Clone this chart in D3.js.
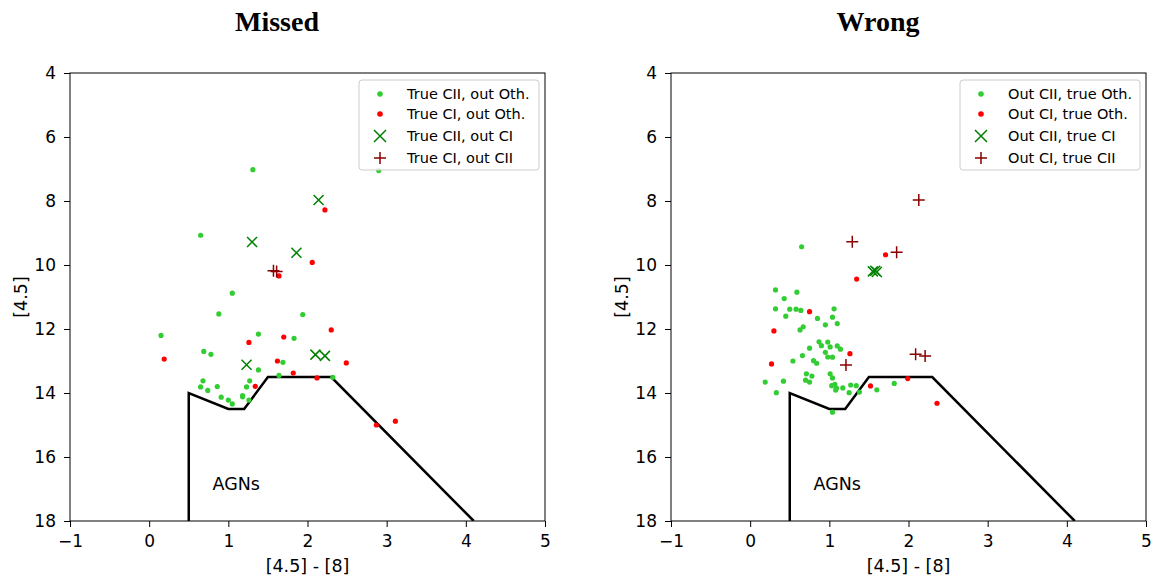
<!DOCTYPE html>
<html><head><meta charset="utf-8">
<script src="https://cdn.jsdelivr.net/npm/d3@7"></script>
<style>body{margin:0;background:#fff}svg{display:block}</style>
</head><body>
<script>
// ---- data ----
const xTicks = [-1,0,1,2,3,4,5];
const yTicks = [4,6,8,10,12,14,16,18];
const agnX = [0.5,0.5,1.0,1.2,1.5,2.3,4.1];
const agnY = [18,14,14.5,14.5,13.5,13.5,18];

const missedGreen = [[1.31,7.02],[0.65,9.07],[1.05,10.88],[0.88,11.53],[1.94,11.55],[0.15,12.2],[1.38,12.16],[1.83,12.29],[0.69,12.70],[0.78,12.79],[1.69,13.04],[1.38,13.28],[1.64,13.45],[2.32,13.51],[0.68,13.62],[0.65,13.81],[0.74,13.92],[0.86,13.80],[1.27,13.62],[1.23,13.81],[0.91,14.13],[1.0,14.22],[1.05,14.34],[1.18,14.12],[1.18,14.08],[1.26,14.22],[2.9,7.05]];
const missedRed = [[2.22,8.28],[2.06,9.92],[1.64,10.34],[1.26,12.42],[1.70,12.25],[2.30,12.03],[0.19,12.94],[1.62,13.0],[2.49,13.06],[1.82,13.375],[2.12,13.53],[1.34,13.79],[2.87,15.0],[3.11,14.88]];
const missedX = [[2.14,7.97],[1.30,9.28],[1.86,9.62],[1.23,13.12],[2.10,12.80],[2.22,12.84]];
const missedPlus = [[1.57,10.18],[1.61,10.2]];

const wrongGreen = [[0.65,9.43],[0.32,10.78],[0.59,10.85],[0.43,11.05],[0.32,11.37],[0.50,11.38],[0.58,11.38],[0.64,11.42],[1.06,11.37],[0.45,11.60],[0.85,11.67],[1.04,11.63],[0.95,11.87],[1.10,11.83],[0.63,12.03],[0.67,11.93],[0.87,12.40],[0.90,12.52],[0.98,12.41],[1.01,12.56],[1.10,12.53],[1.14,12.63],[0.75,12.60],[0.95,12.73],[0.98,12.875],[1.04,12.88],[0.66,12.83],[0.80,12.99],[0.84,13.07],[0.54,13.0],[0.71,13.40],[0.78,13.47],[1.01,13.40],[1.04,13.53],[0.70,13.60],[0.75,13.66],[0.19,13.66],[0.42,13.63],[0.33,13.99],[1.03,13.77],[1.07,13.73],[1.09,13.85],[1.08,13.91],[1.17,13.84],[1.27,13.75],[1.34,13.77],[1.38,13.97],[1.25,13.99],[1.60,13.90],[1.82,13.70],[1.04,14.60]];
const wrongRed = [[1.71,9.68],[1.345,10.44],[0.75,11.46],[0.30,12.06],[1.26,12.77],[0.27,13.09],[1.52,13.78],[1.99,13.55],[2.36,14.32]];
const wrongX = [[1.55,10.2],[1.6,10.22],[1.58,10.18]];
const wrongPlus = [[2.13,7.97],[1.29,9.27],[1.85,9.60],[1.21,13.125],[2.09,12.79],[2.21,12.84]];

const missedLabels = ["True CII, out Oth.","True CI, out Oth.","True CII, out CI","True CI, out CII"];
const wrongLabels = ["Out CII, true Oth.","Out CI, true Oth.","Out CII, true CI","Out CI, true CII"];

// ---- drawing ----
const W = 1153, H = 579;
const svg = d3.select("body").append("svg").attr("width",W).attr("height",H);
const font = "DejaVu Sans, sans-serif";
const COL = {g:"#32cd32", r:"#ff0000", x:"#008000", p:"#8b0000"};

function panel(left, title, green, red, xs, plus, labels){
  const x = d3.scaleLinear().domain([-1,5]).range([left, left+475]);
  const y = d3.scaleLinear().domain([4,18]).range([73,521]);
  const g = svg.append("g");

  svg.append("text").attr("x", left+207).attr("y", 31).attr("text-anchor","middle")
    .attr("font-family","Liberation Serif, Times New Roman, serif").attr("font-weight","bold")
    .attr("font-size",28).text(title);

  const cid = "clip"+left;
  svg.append("clipPath").attr("id",cid).append("rect")
    .attr("x",x(-1)).attr("y",y(4)).attr("width",x(5)-x(-1)).attr("height",y(18)-y(4));
  const plot = g.append("g").attr("clip-path",`url(#${cid})`);

  const pts = agnX.map((v,i)=>[v,agnY[i]]);
  plot.append("path").attr("d", d3.line().x(d=>x(d[0])).y(d=>y(d[1]))(pts))
    .attr("fill","none").attr("stroke","#000").attr("stroke-width",2.5);

  plot.append("text").attr("x",x(0.8)).attr("y",y(17)+1).attr("font-family",font)
    .attr("font-size",17.5).text("AGNs");

  plot.selectAll(null).data(green).join("circle").attr("cx",d=>x(d[0])).attr("cy",d=>y(d[1])).attr("r",2.6).attr("fill",COL.g);
  plot.selectAll(null).data(red).join("circle").attr("cx",d=>x(d[0])).attr("cy",d=>y(d[1])).attr("r",2.6).attr("fill",COL.r);
  const s=5;
  plot.selectAll(null).data(xs).join("path")
    .attr("d",d=>{const cx=x(d[0]),cy=y(d[1]);return `M${cx-s},${cy-s}L${cx+s},${cy+s}M${cx-s},${cy+s}L${cx+s},${cy-s}`;})
    .attr("stroke",COL.x).attr("stroke-width",1.5).attr("fill","none");
  const p=6;
  plot.selectAll(null).data(plus).join("path")
    .attr("d",d=>{const cx=x(d[0]),cy=y(d[1]);return `M${cx-p},${cy}L${cx+p},${cy}M${cx},${cy-p}L${cx},${cy+p}`;})
    .attr("stroke",COL.p).attr("stroke-width",1.5).attr("fill","none");

  const ax = g.append("g").attr("transform",`translate(0,${y(18)})`)
    .call(d3.axisBottom(x).tickValues(xTicks).tickSize(6).tickPadding(8).tickFormat(d=>d<0?"\u2212"+(-d):d));
  const ay = g.append("g").attr("transform",`translate(${x(-1)},0)`)
    .call(d3.axisLeft(y).tickValues(yTicks).tickSize(6).tickPadding(8));
  [ax,ay].forEach(a=>{a.select(".domain").remove();
    a.selectAll("text").attr("font-family",font).attr("font-size",17).attr("fill","#000");
    a.selectAll("line").attr("stroke","#000").attr("stroke-width",1);});
  g.append("rect").attr("x",x(-1)).attr("y",y(4)).attr("width",x(5)-x(-1)).attr("height",y(18)-y(4))
    .attr("fill","none").attr("stroke","#000").attr("stroke-width",1);

  g.append("text").attr("x",(x(-1)+x(5))/2).attr("y",572).attr("text-anchor","middle")
    .attr("font-family",font).attr("font-size",17.5).text("[4.5] - [8]");
  g.append("text").attr("transform",`translate(${left-43},${(y(4)+y(18))/2}) rotate(-90)`)
    .attr("text-anchor","middle").attr("font-family",font).attr("font-size",17.5).text("[4.5]");

  const lx = left+289, ly = 80;
  const leg = g.append("g");
  leg.append("rect").attr("x",lx).attr("y",ly).attr("width",180).attr("height",90).attr("rx",3)
    .attr("fill","#fff").attr("fill-opacity",0.8).attr("stroke","#ccc").attr("stroke-width",1);
  const rows = [94,114,136,158];
  const mx = lx+21;
  leg.append("circle").attr("cx",mx).attr("cy",rows[0]).attr("r",2.8).attr("fill",COL.g);
  leg.append("circle").attr("cx",mx).attr("cy",rows[1]).attr("r",2.8).attr("fill",COL.r);
  leg.append("path").attr("d",`M${mx-6},${rows[2]-6}L${mx+6},${rows[2]+6}M${mx-6},${rows[2]+6}L${mx+6},${rows[2]-6}`)
    .attr("stroke",COL.x).attr("stroke-width",1.5);
  leg.append("path").attr("d",`M${mx-6},${rows[3]}L${mx+6},${rows[3]}M${mx},${rows[3]-6}L${mx},${rows[3]+6}`)
    .attr("stroke",COL.p).attr("stroke-width",1.5);
  labels.forEach((t,i)=>leg.append("text").attr("x",lx+48).attr("y",rows[i]+5)
    .attr("font-family",font).attr("font-size",14.5).text(t));
}

panel(70, "Missed", missedGreen, missedRed, missedX, missedPlus, missedLabels);
panel(671, "Wrong", wrongGreen, wrongRed, wrongX, wrongPlus, wrongLabels);
</script>
</body></html>
